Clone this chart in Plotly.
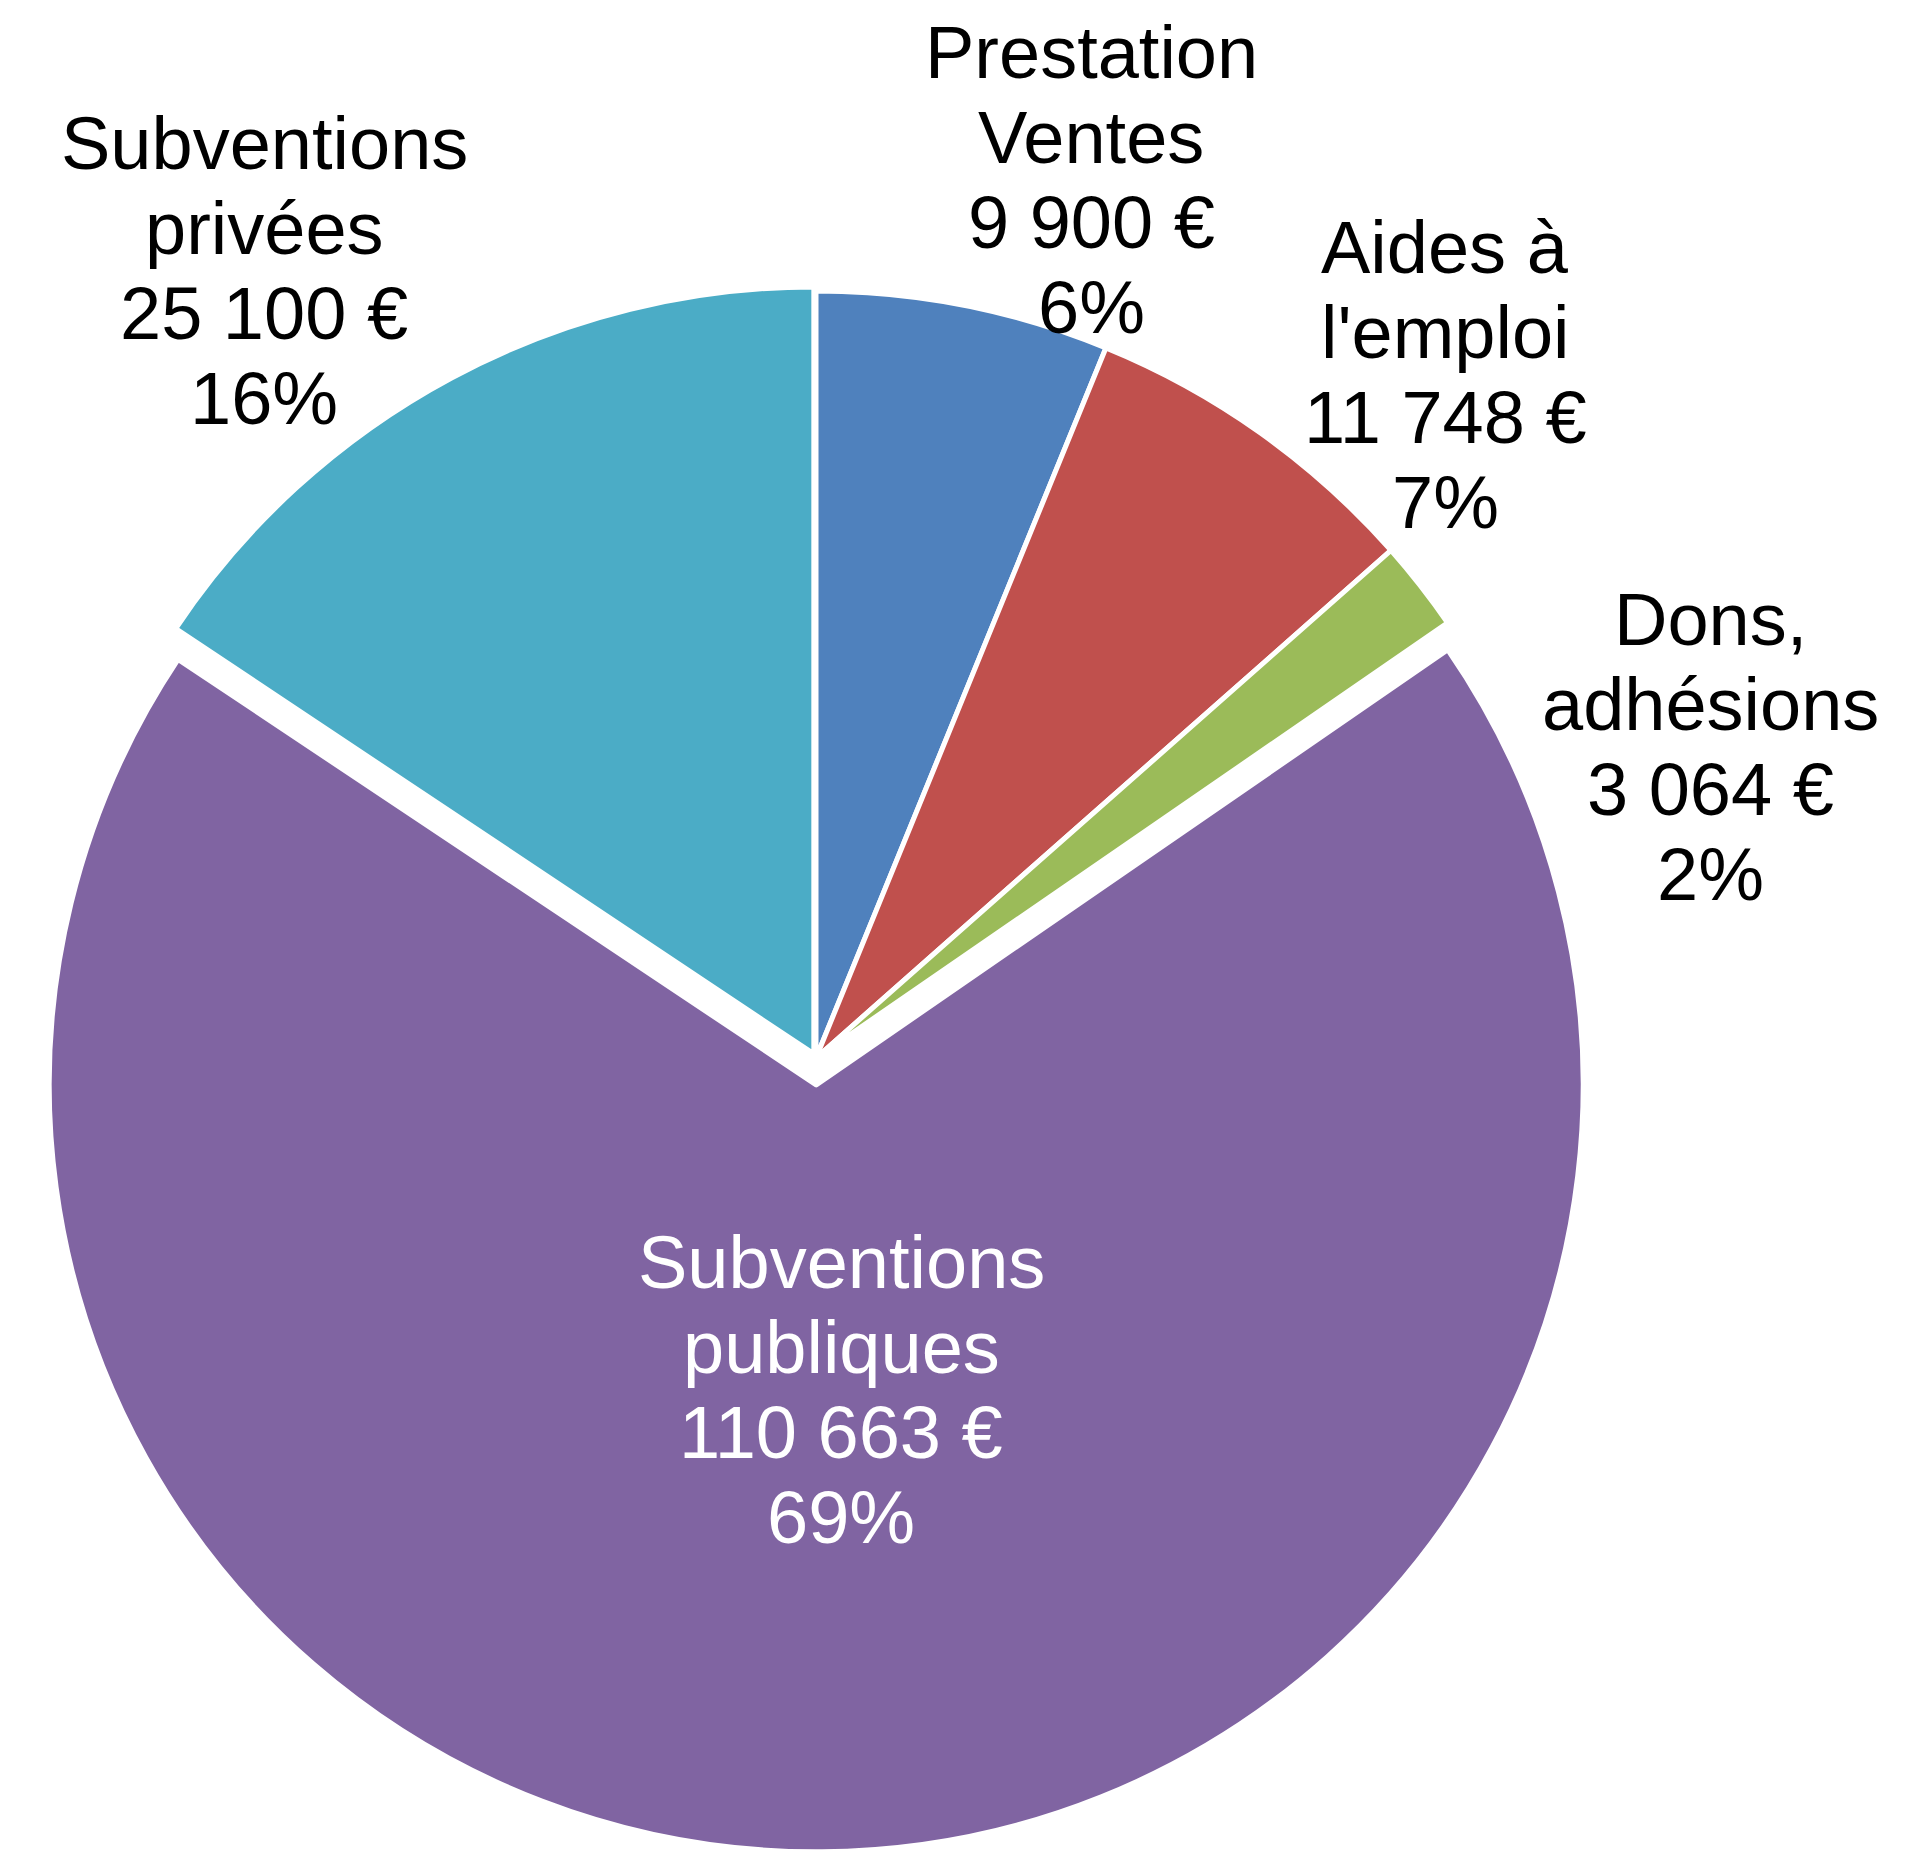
import plotly.graph_objects as go

labels = ["Prestation<br>Ventes", "Aides à<br>l'emploi", "Dons,<br>adhésions",
          "Subventions<br>publiques", "Subventions<br>privées"]
values = [9900, 11748, 3064, 110663, 25100]
colors = ["#4F81BD", "#C0504D", "#9BBB59", "#8064A2", "#4BACC6"]
pulls = [0, 0, 0, 0.035, 0.006]

# label block centres in pixels (Excel-style best fit placement)
label_xy = [(1083, 172), (1437, 367), (1702, 739), (833, 1382), (256, 263)]
label_colors = ["black", "black", "black", "white", "black"]

W, H = 1911, 1850
line_gap = 85
font_size = 74

fig = go.Figure(go.Pie(
    labels=labels, values=values, sort=False, direction="clockwise", rotation=0,
    pull=pulls, marker=dict(colors=colors, line=dict(color="white", width=5)),
    textinfo="none", domain=dict(x=[0.00743, 0.83820], y=[0.00335, 0.86151]),
    showlegend=False, hoverinfo="label+value+percent",
))

total = sum(values)
for lab, val, (cx, cy), col in zip(labels, values, label_xy, label_colors):
    lines = lab.split("<br>") + [f"{val:,}".replace(",", " ") + " €",
                                 f"{round(val / total * 100)}%"]
    n = len(lines)
    for j, line in enumerate(lines):
        py = cy + (j - (n - 1) / 2) * line_gap
        fig.add_annotation(x=cx / W, y=1 - py / H, xref="paper", yref="paper",
                           text=line, showarrow=False, xanchor="center", yanchor="middle",
                           font=dict(color=col, size=font_size))

fig.update_layout(
    width=W, height=H, margin=dict(l=0, r=0, t=0, b=0), paper_bgcolor="white",
    font=dict(family="Liberation Sans, Arial", size=font_size, color="black"),
)
fig.write_html("out.html")
